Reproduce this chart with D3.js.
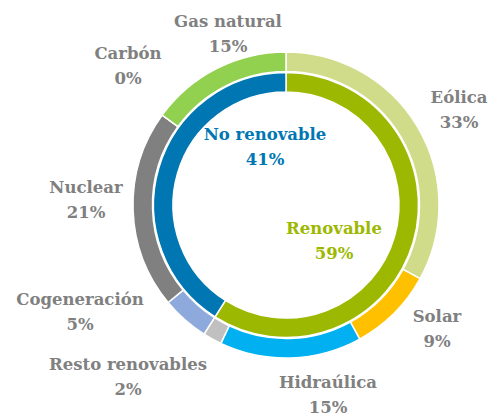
<!DOCTYPE html>
<html>
<head>
<meta charset="utf-8">
<script src="https://cdn.jsdelivr.net/npm/d3@7"></script>
<style>
    body { margin: 0; background: #ffffff; }
    text { font-family: "DejaVu Serif", "Liberation Serif", serif; font-weight: bold; }
</style>
</head>
<body>
<div id="chart"></div>
<script>
// DATA
// ----------------------------------------
const SOURCE_NAMES = ["Eólica", "Solar", "Hidraúlica", "Resto renovables", "Cogeneración", "Nuclear", "Carbón", "Gas natural"];
const SOURCE_VALUES = [33, 9, 15, 2, 5, 21, 0, 15];
const SOURCE_COLORS = ["#d0dc8a", "#ffc000", "#00b0f0", "#c0c0c0", "#8eaadc", "#808080", "#5a5a5a", "#92d050"];

const GROUP_NAMES = ["Renovable", "No renovable"];
const GROUP_VALUES = [59, 41];
const GROUP_COLORS = ["#9cb800", "#0077b2"];

// label anchors (centre x, first baseline y)
const SOURCE_LABEL_POS = [[459, 103], [437, 322], [328, 388], [128, 370], [80, 305], [86, 193], [128, 59], [228, 27]];
const GROUP_LABEL_POS = [[334, 234], [265, 140]];

// CHART VARIABLES
// ----------------------------------------
const WIDTH = 489;
const HEIGHT = 415;
const CENTER = [286, 205];
const OUTER_RING = [133.5, 153];
const INNER_RING = [113, 132.5];
const LABEL_COLOR = "#808080";
const FONT_SIZE = 16.5;
const LINE_GAP = 24.5;

function drawChart() {
    const svg = d3.select("#chart")
        .append("svg")
        .attr("width", WIDTH)
        .attr("height", HEIGHT);

    const pie = d3.pie().sort(null).value(d => d);

    const rings = svg.append("g")
        .attr("transform", `translate(${CENTER[0]}, ${CENTER[1]})`);

    // Outer ring: sources
    const outerArc = d3.arc().innerRadius(OUTER_RING[0]).outerRadius(OUTER_RING[1]);
    rings.append("g")
        .selectAll("path")
        .data(pie(SOURCE_VALUES))
        .enter().append("path")
        .attr("d", outerArc)
        .attr("fill", (d, i) => SOURCE_COLORS[i])
        .attr("stroke", "#ffffff")
        .attr("stroke-width", 1.5);

    // Inner ring: renewable / non renewable
    const innerArc = d3.arc().innerRadius(INNER_RING[0]).outerRadius(INNER_RING[1]);
    rings.append("g")
        .selectAll("path")
        .data(pie(GROUP_VALUES))
        .enter().append("path")
        .attr("d", innerArc)
        .attr("fill", (d, i) => GROUP_COLORS[i])
        .attr("stroke", "#ffffff")
        .attr("stroke-width", 1.5);

    // Labels
    drawLabels(svg, SOURCE_NAMES, SOURCE_VALUES, SOURCE_LABEL_POS, () => LABEL_COLOR);
    drawLabels(svg, GROUP_NAMES, GROUP_VALUES, GROUP_LABEL_POS, (d, i) => GROUP_COLORS[i]);
}

function drawLabels(svg, names, values, positions, color) {
    const label = svg.append("g")
        .selectAll("text")
        .data(names)
        .enter().append("text")
        .attr("text-anchor", "middle")
        .attr("font-size", FONT_SIZE)
        .attr("fill", color);

    label.append("tspan")
        .attr("x", (d, i) => positions[i][0])
        .attr("y", (d, i) => positions[i][1])
        .text(d => d);

    label.append("tspan")
        .attr("x", (d, i) => positions[i][0])
        .attr("y", (d, i) => positions[i][1] + LINE_GAP)
        .text((d, i) => values[i] + "%");
}

drawChart();
</script>
</body>
</html>
